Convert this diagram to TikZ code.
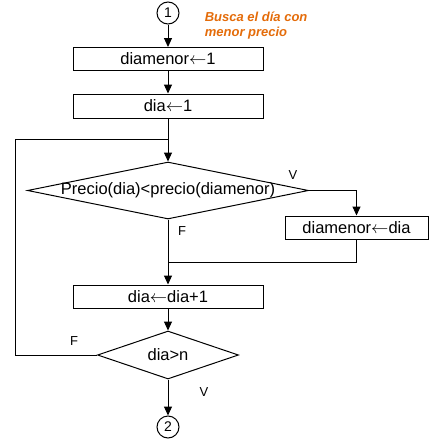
\documentclass[tikz,border=0pt]{standalone}
\usepackage{fontspec}
\setmainfont{Liberation Sans}
\usepackage{tikz}
\usetikzlibrary{shapes.geometric,arrows.meta}
\definecolor{notecolor}{RGB}{228,108,10}

\begin{document}
\begin{tikzpicture}[x=1pt,y=-1pt,line width=1pt,
    flow/.style={-{Triangle[length=9pt,width=8pt]}},
    procbox/.style={draw,rectangle,inner sep=0pt,minimum width=190pt,minimum height=23pt,font=\fontsize{16.5}{19}\selectfont},
    testbox/.style={draw,diamond,inner sep=0pt,font=\fontsize{16.5}{19}\selectfont},
    conn/.style={draw,circle,inner sep=0pt,minimum size=22pt,font=\fontsize{14}{16}\selectfont},
    lbl/.style={font=\fontsize{13}{15}\selectfont}]
            \useasboundingbox (0,0) rectangle (433,442);

            \node[conn] (c1) at (168,13) {1};
            \node[anchor=north west,align=left,text=notecolor,
                font=\fontsize{13}{15}\selectfont\bfseries\itshape] (note) at (201,8)
                {Busca el día con\\menor precio};

            \node[procbox] (b1) at (168,59) {diamenor$\leftarrow$1};
            \node[procbox,minimum height=24pt] (b2) at (168,106) {dia$\leftarrow$1};

            \node[testbox,minimum width=281pt,minimum height=57pt] (d1) at (168,190.5)
                {\makebox[0pt]{Precio(dia)<precio(diamenor)}};
            \node[procbox,minimum width=143pt] (b3) at (356.5,227.5) {diamenor$\leftarrow$dia};
            \node[procbox] (b4) at (168,296.5) {dia$\leftarrow$dia+1};

            \node[testbox,minimum width=141pt,minimum height=48pt] (d2) at (168,355)
                {\makebox[0pt]{dia>n}};
            \node[conn] (c2) at (168,427) {2};

            \coordinate (j1) at (168,139); %loop joins here
            \coordinate (j2) at (168,262);
            \coordinate (lp) at (15,139);

            \draw[flow] (c1) -- (b1);
            \draw[flow] (b1) -- (b2);
            \draw[flow] (b2) -- (d1);
            \draw[flow] (d1.east) -| (b3.north);
            \draw (b3.south) |- (j2);
            \draw[flow] (d1.south) -- (b4.north);
            \draw[flow] (b4) -- (d2);
            \draw (d2.west) -| (lp) -- (j1);
            \draw[flow] (d2) -- (c2);

            \node[lbl] (v1) at (293,175) {V};
            \node[lbl] (f1) at (182,231) {F};
            \node[lbl] (f2) at (74,341) {F};
            \node[lbl] (v2) at (204,392) {V};
        \end{tikzpicture}
\end{document}
